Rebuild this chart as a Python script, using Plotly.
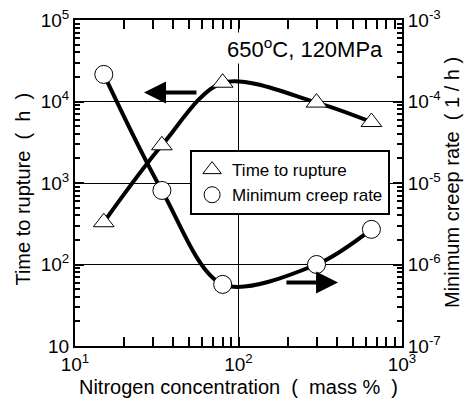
import plotly.graph_objects as go

# Data
nitrogen = [15, 34, 80, 300, 650]
rupture_time = [330, 2900, 17000, 9700, 5600]          # h (left axis)
creep_rate = [2.15e-4, 8.1e-6, 5.7e-7, 1.0e-6, 2.7e-6]  # 1/h (right axis)

x_tickvals = [10, 100, 1000]
x_ticktext = ["10<sup>1</sup>", "10<sup>2</sup>", "10<sup>3</sup>"]
y_tickvals = [10, 100, 1000, 10000, 100000]
y_ticktext = ["10", "10<sup>2</sup>", "10<sup>3</sup>", "10<sup>4</sup>", "10<sup>5</sup>"]
y2_tickvals = [1e-7, 1e-6, 1e-5, 1e-4, 1e-3]
y2_ticktext = ["10<sup>-7</sup>", "10<sup>-6</sup>", "10<sup>-5</sup>", "10<sup>-4</sup>", "10<sup>-3</sup>"]

FONT = "Arial, Liberation Sans, sans-serif"
NB = "\u00a0"

def minor_vals(lo_exp, hi_exp):
    vals = []
    for e in range(lo_exp, hi_exp):
        for m in range(2, 10):
            vals.append(m * 10 ** e)
    return vals

fig = go.Figure()

fig.add_trace(go.Scatter(x=nitrogen, y=rupture_time, mode="lines",
                         line=dict(color="black", width=4, shape="spline", smoothing=0.9),
                         showlegend=False, hoverinfo="skip"))
fig.add_trace(go.Scatter(x=nitrogen, y=creep_rate, mode="lines", yaxis="y2",
                         line=dict(color="black", width=4, shape="spline", smoothing=0.9),
                         showlegend=False, hoverinfo="skip"))
fig.add_trace(go.Scatter(x=nitrogen, y=rupture_time, mode="markers", name="Time to rupture",
                         marker=dict(symbol="triangle-up", size=18, color="white",
                                     line=dict(color="black", width=1))))
fig.add_trace(go.Scatter(x=nitrogen, y=creep_rate, mode="markers", yaxis="y2",
                         name="Minimum creep rate",
                         marker=dict(symbol="circle", size=18, color="white",
                                     line=dict(color="black", width=1))))

axis_common = dict(type="log", showline=True, linecolor="black", linewidth=2,
                   ticks="inside", ticklen=9, tickwidth=1.5, tickcolor="black",
                   tickfont=dict(family=FONT, size=19, color="black"),
                   ticklabeloverflow="allow", zeroline=False, automargin=False)

fig.update_layout(
    width=465, height=407,
    margin=dict(l=75, r=63, t=20, b=61),
    paper_bgcolor="white", plot_bgcolor="white",
    font=dict(family=FONT, color="black"),
    xaxis=dict(**axis_common, range=[1, 3],
               tickvals=x_tickvals, ticktext=x_ticktext,
               mirror="allticks", showgrid=True, gridcolor="black", gridwidth=1,
               minor=dict(ticks="inside", ticklen=5, tickwidth=1.5, tickcolor="black",
                          tickvals=minor_vals(1, 3), showgrid=False),
               title=dict(text=f"Nitrogen concentration{NB}{NB}({NB}{NB}mass{NB}%{NB}{NB})",
                          font=dict(family=FONT, size=20, color="black"), standoff=6)),
    yaxis=dict(**axis_common, range=[1, 5],
               tickvals=y_tickvals, ticktext=y_ticktext,
               showgrid=True, gridcolor="black", gridwidth=1,
               minor=dict(ticks="inside", ticklen=5, tickwidth=1.5, tickcolor="black",
                          tickvals=minor_vals(1, 5), showgrid=False)),
    yaxis2=dict(**axis_common, range=[-7, -3],
                tickvals=y2_tickvals, ticktext=y2_ticktext,
                overlaying="y", side="right", showgrid=False,
                minor=dict(ticks="inside", ticklen=5, tickwidth=1.5, tickcolor="black",
                           tickvals=minor_vals(-7, -3), showgrid=False)),
    legend=dict(x=0.352, y=0.601, xanchor="left", yanchor="top",
                bgcolor="white", bordercolor="black", borderwidth=2,
                font=dict(family=FONT, size=17, color="black"),
                itemwidth=30, tracegroupgap=0),
    showlegend=True,
)

# y-axis titles (placed as rotated text in the margins)
fig.add_annotation(text=f"Time to rupture{NB}{NB}({NB}{NB}h{NB}{NB})", xref="paper", yref="paper",
                   x=-0.162, y=0.48, xanchor="center", yanchor="middle", textangle=-90,
                   showarrow=False, font=dict(family=FONT, size=20, color="black"))
fig.add_annotation(text=f"Minimum creep rate{NB}{NB}({NB}1{NB}/{NB}h{NB})", xref="paper", yref="paper",
                   x=1.153, y=0.5, xanchor="center", yanchor="middle", textangle=-90,
                   showarrow=False, font=dict(family=FONT, size=20, color="black"))

# condition label
fig.add_annotation(text="650<sup>o</sup>C, 120MPa", xref="paper", yref="paper",
                   x=0.948, y=0.915, xanchor="right", yanchor="middle", showarrow=False,
                   bgcolor="white", font=dict(family=FONT, size=22, color="black"))

# arrows pointing to the relevant axis
fig.add_annotation(x=1.422, y=4.11, ax=1.752, ay=4.11, xref="x", yref="y",
                   axref="x", ayref="y", showarrow=True, arrowhead=2, arrowsize=1.1,
                   arrowwidth=4, arrowcolor="black", text="")
fig.add_annotation(x=2.609, y=1.779, ax=2.284, ay=1.779, xref="x", yref="y",
                   axref="x", ayref="y", showarrow=True, arrowhead=2, arrowsize=1.1,
                   arrowwidth=4, arrowcolor="black", text="")

fig.write_html("out.html", config={"displayModeBar": False},
               post_script="document.body.style.margin='0';document.body.style.overflow='hidden';")
